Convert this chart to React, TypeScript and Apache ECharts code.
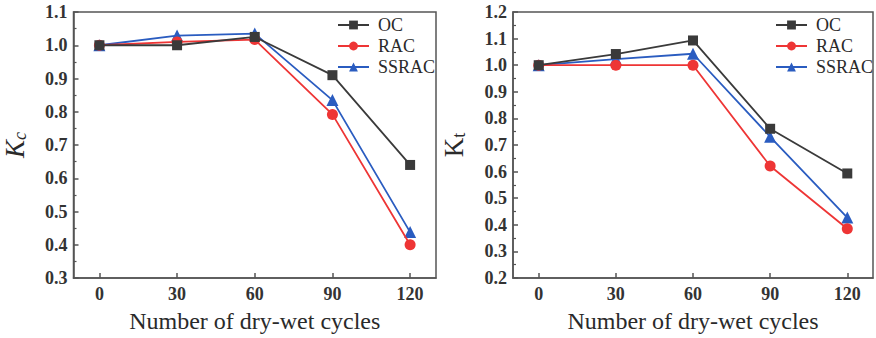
import React, { useEffect, useRef } from "react";
import * as echarts from "echarts";

const cycles = [0, 30, 60, 90, 120];
const xTicks = [0, 30, 60, 90, 120];
const seriesNames = ["OC", "RAC", "SSRAC"];
const kcOC = [1.0, 1.0, 1.025, 0.91, 0.64];
const kcRAC = [1.0, 1.01, 1.017, 0.792, 0.4];
const kcSSRAC = [1.0, 1.029, 1.035, 0.835, 0.438];
const ktOC = [1.0, 1.042, 1.093, 0.761, 0.593];
const ktRAC = [1.0, 1.0, 1.0, 0.621, 0.385];
const ktSSRAC = [1.0, 1.023, 1.043, 0.731, 0.427];
const xTitle = "Number of dry-wet cycles";

const colors = ["#3a3a3a", "#ee3535", "#2a5cc0"];
const symbols = ["rect", "circle", "triangle"];
const symbolSizes = [10, 11, 12];
const FONT = "Liberation Serif";

export default function App() {
  const ref = useRef<HTMLDivElement>(null);
  useEffect(() => {
    if (!ref.current) return;
    const chart = echarts.init(ref.current, null, { renderer: "svg" });
    const pair = (ys: number[]) => cycles.map((c, i) => [c, ys[i]]);
    const leftData = [kcOC, kcRAC, kcSSRAC];
    const rightData = [ktOC, ktRAC, ktSSRAC];
    const axisColor = "#555";
    const mkX = (gridIndex: number) => ({
      type: "value",
      gridIndex,
      min: -10,
      max: 130,
      axisLine: { onZero: false, lineStyle: { color: axisColor, width: 1.5 } },
      axisTick: { inside: true, length: 5, customValues: xTicks, lineStyle: { color: axisColor, width: 1.5 } },
      axisLabel: {
        customValues: xTicks,
        margin: 7,
        fontFamily: FONT,
        fontSize: 18,
        fontWeight: "bold",
        color: "#333",
      },
      splitLine: { show: false },
      name: xTitle,
      nameLocation: "middle",
      nameGap: 31,
      nameTextStyle: { fontFamily: FONT, fontSize: 24, color: "#2a2a2a" },
    });
    const mkY = (gridIndex: number, min: number, max: number, sub: string, italic: boolean) => ({
      type: "value",
      gridIndex,
      min,
      max,
      interval: 0.1,
      axisLine: { show: true, onZero: false, lineStyle: { color: axisColor, width: 1.5 } },
      axisTick: { inside: true, length: 5, lineStyle: { color: axisColor, width: 1.5 } },
      minorTick: { show: true, splitNumber: 2, length: 3, lineStyle: { color: axisColor, width: 1.2 } },
      axisLabel: {
        margin: 6,
        formatter: (v: number) => v.toFixed(1),
        fontFamily: FONT,
        fontSize: 18,
        fontWeight: "bold",
        color: "#333",
      },
      splitLine: { show: false },
      name: "{k|K}{s|" + sub + "}",
      nameLocation: "middle",
      nameRotate: 90,
      nameGap: 45,
      nameTextStyle: {
        rich: {
          k: { fontFamily: FONT, fontSize: 27, fontStyle: italic ? "italic" : "normal", color: "#2a2a2a" },
          s: {
            fontFamily: FONT,
            fontSize: 18,
            fontStyle: italic ? "italic" : "normal",
            color: "#2a2a2a",
            verticalAlign: "bottom",
            padding: [10, 0, 0, 0],
          },
        },
      },
    });
    const mkSeries = (data: number[][], gridIdx: number) =>
      data.map((ys, i) => ({
        name: seriesNames[i],
        type: "line",
        xAxisIndex: gridIdx,
        yAxisIndex: gridIdx,
        data: pair(ys),
        symbol: symbols[i],
        symbolSize: symbolSizes[i],
        showSymbol: true,
        itemStyle: { color: colors[i] },
        lineStyle: { color: colors[i], width: 1.8 },
        z: 3 - i,
      }));
    const legendCommon = {
      orient: "vertical",
      itemWidth: 31,
      itemHeight: 11,
      itemGap: 3,
      textStyle: { fontFamily: FONT, fontSize: 18, color: "#2a2a2a", lineHeight: 18, padding: [0, 0, 0, 4] },
      data: seriesNames,
      padding: 0,
    };
    chart.setOption({
      animation: false,
      backgroundColor: "#fff",
      grid: [
        { left: 73, right: 440, top: 12, bottom: 59, show: true, borderColor: axisColor, borderWidth: 1.5, backgroundColor: "transparent" },
        { left: 513, right: 3, top: 12, bottom: 59, show: true, borderColor: axisColor, borderWidth: 1.5, backgroundColor: "transparent" },
      ],
      xAxis: [mkX(0), mkX(1)],
      yAxis: [mkY(0, 0.3, 1.1, "c", true), mkY(1, 0.2, 1.2, "t", false)],
      legend: [
        { ...legendCommon, left: 337, top: 16 },
        { ...legendCommon, left: 775, top: 16 },
      ],
      series: [...mkSeries(leftData, 0), ...mkSeries(rightData, 1)],
    });
    return () => chart.dispose();
  }, []);
  return (
    <div
      ref={ref}
      style={{ position: "fixed", left: 0, top: 0, width: 876, height: 338, background: "#fff" }}
    />
  );
}
